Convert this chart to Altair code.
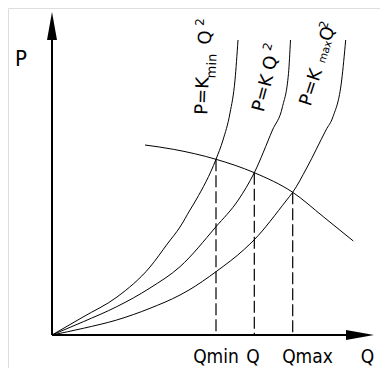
import altair as alt
import pandas as pd

# ---- data (Q, P in chart units; origin of the axes at 0,0) ----
kmin_q = [0, 31, 65, 98, 116, 128, 138, 144, 164, 171, 178, 183, 186]
kmin_p = [0, 18, 38, 68, 92, 108, 125, 135, 175.7, 195, 222, 255, 295]

k_q = [0, 31.3, 64.7, 98, 128, 164, 186.3, 202.3, 220.5, 230.5, 236.5, 238.5]
k_p = [0, 13.3, 28.3, 47, 68.3, 108.3, 135, 162.3, 205, 228.3, 261.7, 295]

kmax_q = [0, 31.3, 64.7, 98, 128, 137, 164, 192.3, 202, 234.7, 240.7, 254.7, 274, 281, 289.7, 293.7]
kmax_p = [0, 6.7, 15, 26.7, 40, 45, 63.3, 85.7, 95, 135, 142.7, 167, 205, 218.3, 255, 295]

pump_q = [93, 121.3, 164, 202.3, 240.7, 271.3, 301.3]
pump_p = [190, 185.7, 175.7, 162.3, 142.7, 118.3, 94]

# operating points (intersections) -> dashed verticals
op_q = [164, 202.3, 240.7]
op_p = [175.7, 162.3, 142.7]

# bottom tick labels
tick_text = ["Qmin", "Q", "Qmax", "Q"]
tick_q = [164, 201, 255.5, 315.5]

NARROW = "Liberation Sans Narrow, DejaVu Sans Condensed, Liberation Sans, sans-serif"
WIDE = "DejaVu Sans, sans-serif"

xs = alt.Scale(domain=[-44, 328], nice=False, zero=False)
ys = alt.Scale(domain=[-33, 327], nice=False, zero=False)

def X(f):
    return alt.X(f, type="quantitative", scale=xs, axis=None)

def Y(f):
    return alt.Y(f, type="quantitative", scale=ys, axis=None)

rows = []
for name, qq, pp in [("kmin", kmin_q, kmin_p), ("k", k_q, k_p), ("kmax", kmax_q, kmax_p), ("pump", pump_q, pump_p)]:
    for i, (a, b) in enumerate(zip(qq, pp)):
        rows.append({"curve": name, "Q": a, "P": b, "o": i})
curves_df = pd.DataFrame(rows)

curves = alt.Chart(curves_df).mark_line(color="black", strokeWidth=1, interpolate="monotone").encode(
    x=X("Q"), y=Y("P"), detail="curve:N", order="o:Q"
)

dash_df = pd.DataFrame({"Q": op_q, "P": op_p, "P0": [0] * len(op_q)})
dashes = alt.Chart(dash_df).mark_rule(color="black", strokeWidth=1.2, strokeDash=[12, 4]).encode(
    x=X("Q"), y=Y("P"), y2="P0"
)

# axes
xaxis_df = pd.DataFrame({"Q": [0], "Q2": [300], "P": [0]})
xaxis = alt.Chart(xaxis_df).mark_rule(color="black", strokeWidth=2).encode(x=X("Q"), x2="Q2", y=Y("P"))
yaxis_df = pd.DataFrame({"Q": [0], "P": [0], "P2": [300]})
yaxis = alt.Chart(yaxis_df).mark_rule(color="black", strokeWidth=2).encode(x=X("Q"), y=Y("P"), y2="P2")

xarrow_df = pd.DataFrame({"Q": [294, 322], "lo": [-5, 0], "hi": [5, 0]})
xarrow = alt.Chart(xarrow_df).mark_area(color="black").encode(x=X("Q"), y=Y("lo"), y2="hi")
yarrow_df = pd.DataFrame({"P": [295, 323], "lo": [-5, 0], "hi": [5, 0]})
yarrow = alt.Chart(yarrow_df).mark_area(color="black", orient="horizontal").encode(y=Y("P"), x=X("lo"), x2="hi")

# axis titles and tick labels
ticks_df = pd.DataFrame({"t": tick_text, "Q": tick_q, "P": [-22] * 4})
ticks = alt.Chart(ticks_df).mark_text(font=NARROW, fontSize=19, align="center", baseline="middle").encode(
    x=X("Q"), y=Y("P"), text="t:N"
)
ptitle_df = pd.DataFrame({"t": ["P"], "Q": [-31], "P": [276]})
ptitle = alt.Chart(ptitle_df).mark_text(font=NARROW, fontSize=22, align="center", baseline="middle").encode(
    x=X("Q"), y=Y("P"), text="t:N"
)

# rotated curve labels, in pieces (text, Q, P, size, angle)
lab_text = ["P=K", "min", "Q", "2",
            "P=K", "Q", "2",
            "P=K", "max", "Q", "2"]
lab_q = [151, 160, 154, 148, 211.5, 219, 215.5, 259.5, 273.5, 276, 271.8]
lab_p = [239, 269, 297.5, 313, 241.7, 272, 288.5, 247.5, 283, 301, 310]
lab_size = [18, 13, 18, 12, 18, 18, 12, 18, 10.5, 18, 12]
lab_angle = [272, 272, 272, 272, 285, 285, 285, 288, 288, 288, 288]

lab_df = pd.DataFrame({"t": lab_text, "Q": lab_q, "P": lab_p, "s": lab_size, "a": lab_angle, "i": range(len(lab_text))})
labels = alt.Chart(lab_df).mark_text(font=WIDE, align="center", baseline="middle", color="black").encode(
    x=X("Q"), y=Y("P"), text="t:N",
    size=alt.Size("s:Q", scale=None, legend=None),
    angle=alt.Angle("a:Q", scale=None),
    detail="i:N",
)

chart = alt.layer(xaxis, yaxis, xarrow, yarrow, curves, dashes, ticks, ptitle, labels).properties(
    width=372, height=360, padding=0, autosize=alt.AutoSizeParams(type="none")
).configure_view(stroke=None).configure(background="white")

chart.save("out.html", embed_options={"renderer": "svg", "actions": False})
